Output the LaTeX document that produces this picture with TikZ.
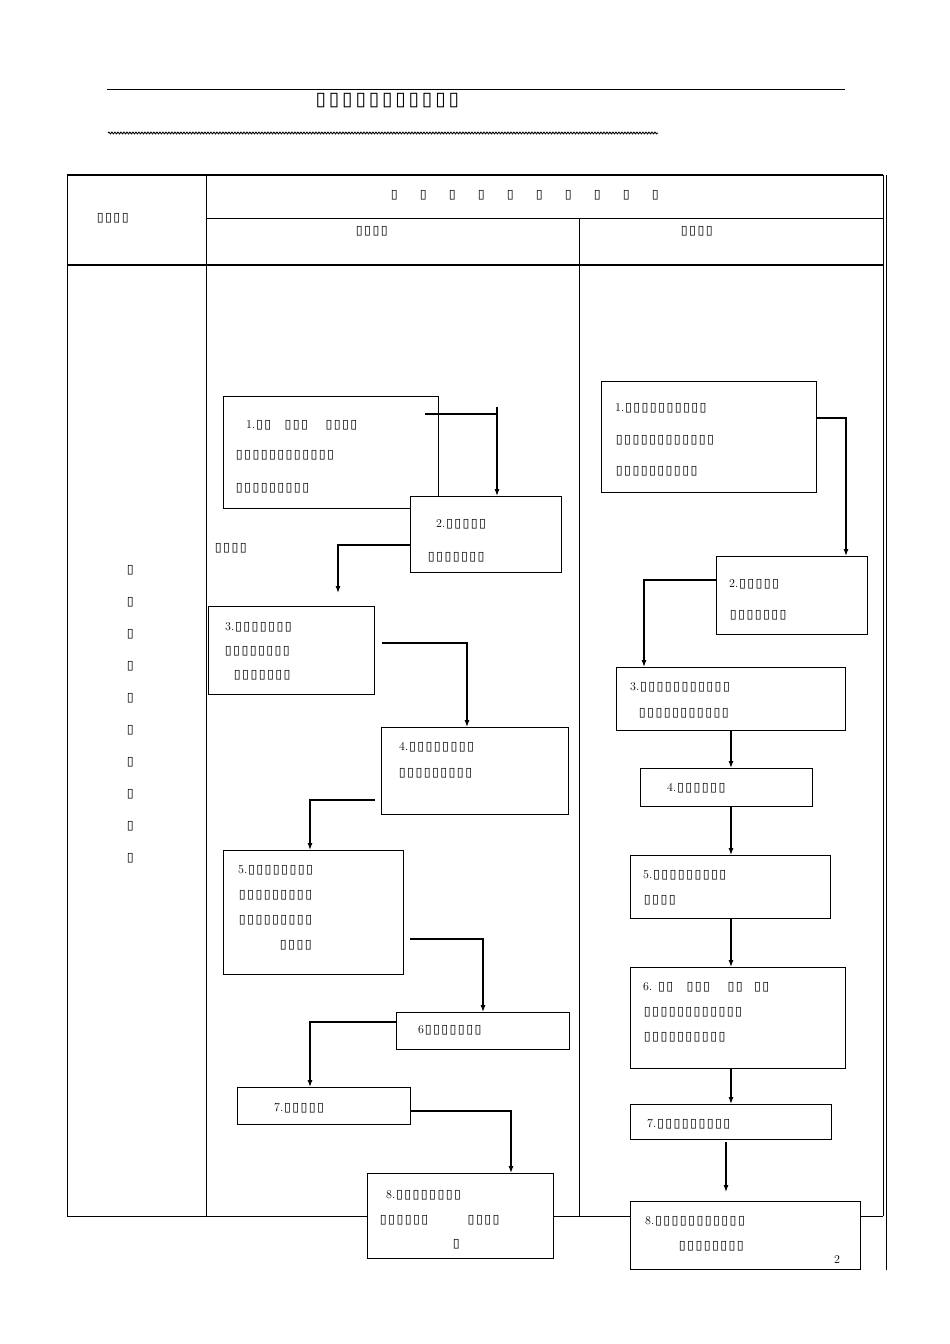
\documentclass[tikz,border=0pt]{standalone}
\usepackage{fontspec}
\setmainfont{Latin Modern Roman}
\newfontfamily\tofufont{DejaVu Sans}
\usetikzlibrary{decorations.pathmorphing,arrows.meta}
\newcommand{\tf}{\hbox to 8.3pt{\hss\tofufont\fontsize{12.5pt}{12.5pt}\selectfont ▯\hss}}
\newcommand{\tfb}{\hbox to 13.3pt{\hss\tofufont\fontsize{19pt}{19pt}\selectfont ▯\hss}}
\newcommand{\tn}[1]{\foreach \i in {1,...,#1}{\tf}}
\begin{document}
\begin{tikzpicture}[x=1pt,y=-1pt,
  box/.style={draw,line width=1pt,anchor=north west,inner sep=0pt},
  txt/.style={anchor=west,inner sep=0pt,font=\fontsize{12pt}{12pt}\selectfont},
  arr/.style={line width=1.1pt,-{Latex[length=7pt,width=5pt]}},
  grid/.style={line width=1pt}]
\useasboundingbox (0,0) rectangle (950,1344);
% title
\draw[grid] (107,89) -- (845,89);
\node[txt] (title) at (314,101) {\foreach \i in {1,...,11}{\tfb}};
\draw[line width=0.9pt,decorate,decoration={snake,amplitude=0.9pt,segment length=3pt}] (108,133) -- (658,133);
% table
\draw[line width=1.6pt] (67,175) -- (883,175);
\draw[grid] (67,175) -- (67,1216) -- (883,1216);
\draw[grid] (883,175) -- (883,1216);
\draw[grid] (886,175) -- (886,1270);
\draw[grid] (206,175) -- (206,1216);
\draw[grid] (579,218) -- (579,1216);
\draw[grid] (206,218) -- (883,218);
\draw[line width=1.4pt] (67,265) -- (883,265);
\node[txt] (h1) at (96,218) {\tn{4}};
\node[txt] (h2) at (390,195) {\foreach \i in {1,...,10}{\hbox to 29pt{\tf\hss}}};
\node[txt] (h3) at (355,231) {\tn{4}};
\node[txt] (h4) at (680,231) {\tn{4}};
\foreach \k in {0,...,9}{\node[txt] at (126,570+32*\k) {\tf};}
% left column boxes
\node[box,minimum width=215pt,minimum height=112pt] (L1) at (223,396) {};
\node[txt] at (246,425) {1.\tn{2}\hspace{12pt}\tn{3}\hspace{16pt}\tn{4}};
\node[txt] at (235,455) {\tn{12}};
\node[txt] at (235,488) {\tn{9}};
\node[box,fill=white,minimum width=151pt,minimum height=76pt] (L2) at (410,496) {};
\node[txt] at (436,524) {2.\tn{5}};
\node[txt] at (427,557) {\tn{7}};
\node[txt] (lab) at (214,548) {\tn{4}};
\node[box,minimum width=166pt,minimum height=88pt] (L3) at (208,606) {};
\node[txt] at (225,627) {3.\tn{7}};
\node[txt] at (224,651) {\tn{8}};
\node[txt] at (233,675) {\tn{7}};
\node[box,minimum width=187pt,minimum height=87pt] (L4) at (381,727) {};
\node[txt] at (399,747) {4.\tn{8}};
\node[txt] at (398,773) {\tn{9}};
\node[box,minimum width=180pt,minimum height=124pt] (L5) at (223,850) {};
\node[txt] at (238,870) {5.\tn{8}};
\node[txt] at (238,895) {\tn{9}};
\node[txt] at (238,920) {\tn{9}};
\node[txt] at (279,945) {\tn{4}};
\node[box,minimum width=173pt,minimum height=37pt] (L6) at (396,1012) {};
\node[txt] at (418,1030) {6\tn{7}};
\node[box,line width=1.4pt,minimum width=173pt,minimum height=37pt] (L7) at (237,1087) {};
\node[txt] at (274,1108) {7.\tn{5}};
\node[box,fill=white,minimum width=186pt,minimum height=85pt] (L8) at (367,1173) {};
\node[txt] at (386,1195) {8.\tn{8}};
\node[txt] at (379,1220) {\tn{6}\hspace{38pt}\tn{4}};
\node[txt] at (452,1244) {\tf};
% left connectors
\coordinate (a1) at (425,414);
\draw[line width=1.1pt] (a1) -- (497,414);
\draw[arr] (497,407) -- (L2.north -| 497,0);
\coordinate (a2) at (L2.west |- 0,545);
\draw[arr] (a2) -- (338,545) -- (338,593);
\coordinate (a3) at (382,643);
\draw[arr] (a3) -- (467,643) -- (L4.north -| 467,0);
\coordinate (a4) at (375,800);
\draw[arr] (a4) -- (310,800) -- (L5.north -| 310,0);
\coordinate (a5) at (410,939);
\draw[arr] (a5) -- (483,939) -- (L6.north -| 483,0);
\coordinate (a6) at (L6.west |- 0,1022);
\draw[arr] (a6) -- (310,1022) -- (L7.north -| 310,0);
\coordinate (a7) at (L7.east |- 0,1111);
\draw[arr] (a7) -- (511,1111) -- (L8.north -| 511,0);
% right column boxes
\node[box,line width=1.3pt,minimum width=215pt,minimum height=111pt] (R1) at (601,381) {};
\node[txt] at (615,408) {1.\tn{10}};
\node[txt] at (615,440) {\tn{12}};
\node[txt] at (615,471) {\tn{10}};
\node[box,minimum width=151pt,minimum height=78pt] (R2) at (716,556) {};
\node[txt] at (729,584) {2.\tn{5}};
\node[txt] at (729,615) {\tn{7}};
\node[box,line width=1.3pt,minimum width=229pt,minimum height=63pt] (R3) at (616,667) {};
\node[txt] at (630,687) {3.\tn{11}};
\node[txt] at (638,713) {\tn{11}};
\node[box,line width=1.4pt,minimum width=172pt,minimum height=38pt] (R4) at (640,768) {};
\node[txt] at (667,788) {4.\tn{6}};
\node[box,line width=1.4pt,minimum width=200pt,minimum height=63pt] (R5) at (630,855) {};
\node[txt] at (643,875) {5.\tn{9}};
\node[txt] at (643,900) {\tn{4}};
\node[box,minimum width=215pt,minimum height=101pt] (R6) at (630,967) {};
\node[txt] at (643,987) {6.\hspace{5pt}\tn{2}\hspace{12pt}\tn{3}\hspace{16pt}\tn{2}\hspace{10pt}\tn{2}};
\node[txt] at (643,1012) {\tn{12}};
\node[txt] at (643,1037) {\tn{10}};
\node[box,minimum width=201pt,minimum height=35pt] (R7) at (630,1104) {};
\node[txt] at (647,1124) {7.\tn{9}};
\node[box,fill=white,minimum width=230pt,minimum height=68pt] (R8) at (630,1201) {};
\node[txt] at (645,1221) {8.\tn{11}};
\node[txt] at (678,1246) {\tn{8}};
\node[txt] (pg) at (834,1259) {2};
% right connectors
\draw[arr] (R1.east |- 0,418) -- (846,418) -- (R2.north -| 846,0);
\draw[arr] (R2.west |- 0,580) -- (644,580) -- (R3.north -| 644,0);
\draw[arr] (R3.south -| 731,0) -- (R4.north -| 731,0);
\draw[arr] (R4.south -| 731,0) -- (R5.north -| 731,0);
\draw[arr] (R5.south -| 731,0) -- (R6.north -| 731,0);
\draw[arr] (R6.south -| 731,0) -- (R7.north -| 731,0);
\coordinate (b7) at (726,1142);
\draw[arr] (b7) -- (726,1192);
\end{tikzpicture}
\end{document}
